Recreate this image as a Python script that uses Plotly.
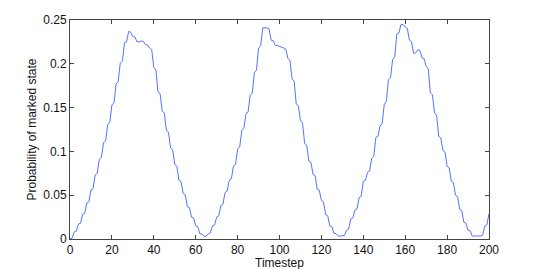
import plotly.graph_objects as go

timesteps = list(range(0, 201))

probability = [
    0.000, 0.001, 0.008, 0.009, 0.017, 0.018, 0.028, 0.029, 0.041, 0.0425,
    0.056, 0.0575, 0.073, 0.075, 0.091, 0.093, 0.110, 0.112, 0.131, 0.133,
    0.153, 0.1555, 0.177, 0.1795, 0.201, 0.203, 0.224, 0.225, 0.237, 0.236,
    0.231, 0.2305, 0.225, 0.225, 0.226, 0.2256, 0.222, 0.2216, 0.218, 0.216,
    0.196, 0.193, 0.168, 0.166, 0.146, 0.144, 0.124, 0.122, 0.104, 0.102,
    0.085, 0.083, 0.067, 0.0655, 0.052, 0.0505, 0.037, 0.036, 0.025, 0.024,
    0.015, 0.014, 0.006, 0.0057, 0.003, 0.0033, 0.006, 0.007, 0.015, 0.016,
    0.025, 0.0263, 0.038, 0.0395, 0.053, 0.0545, 0.067, 0.0686, 0.083, 0.085,
    0.103, 0.105, 0.124, 0.126, 0.143, 0.145, 0.164, 0.1666, 0.190, 0.1928,
    0.218, 0.2203, 0.241, 0.241, 0.241, 0.240, 0.227, 0.2264, 0.221, 0.2209,
    0.220, 0.2198, 0.218, 0.2168, 0.206, 0.2037, 0.183, 0.180, 0.154, 0.152,
    0.135, 0.1324, 0.109, 0.107, 0.089, 0.0875, 0.074, 0.0723, 0.057, 0.0557,
    0.044, 0.0424, 0.028, 0.0267, 0.015, 0.0142, 0.0065, 0.0062, 0.0034, 0.0034,
    0.0034, 0.004, 0.010, 0.0113, 0.023, 0.024, 0.033, 0.0344, 0.047, 0.0489,
    0.066, 0.067, 0.076, 0.0776, 0.092, 0.0944, 0.116, 0.1173, 0.129, 0.1315,
    0.154, 0.1568, 0.182, 0.1843, 0.205, 0.2079, 0.234, 0.2351, 0.245, 0.2447,
    0.242, 0.2405, 0.227, 0.2255, 0.212, 0.2124, 0.216, 0.2151, 0.207, 0.206,
    0.197, 0.194, 0.167, 0.1647, 0.144, 0.1413, 0.117, 0.1154, 0.101, 0.0992,
    0.083, 0.0813, 0.066, 0.0644, 0.050, 0.0484, 0.034, 0.0325, 0.019, 0.0181,
    0.010, 0.0093, 0.0034, 0.0034, 0.0034, 0.0034, 0.0034, 0.0046, 0.015, 0.0164,
    0.029,
]

x_ticks = [0, 20, 40, 60, 80, 100, 120, 140, 160, 180, 200]
x_tick_labels = ["0", "20", "40", "60", "80", "100", "120", "140", "160", "180", "200"]
y_ticks = [0, 0.05, 0.1, 0.15, 0.2, 0.25]
y_tick_labels = ["0", "0.05", "0.1", "0.15", "0.2", "0.25"]
x_title = "Timestep"
y_title = "Probability of marked state"

FONT = "Liberation Sans, Arial, sans-serif"

fig = go.Figure()
fig.add_trace(go.Scatter(
    x=timesteps, y=probability, mode="lines",
    line=dict(color="#5573ff", width=1),
    showlegend=False,
))

axis_common = dict(
    showline=True, linecolor="#444444", linewidth=1,
    mirror="ticks", ticks="inside", ticklen=4, tickcolor="#444444",
    showgrid=False, zeroline=False, automargin=False,
    tickfont=dict(family=FONT, size=12, color="#111111"),
)

fig.update_xaxes(range=[0, 200], tickvals=x_ticks, ticktext=x_tick_labels, **axis_common)
fig.update_yaxes(
    range=[0, 0.25], tickvals=y_ticks, ticktext=y_tick_labels,
    title=dict(text=y_title, standoff=4,
               font=dict(family=FONT, size=12, color="#111111")),
    **axis_common,
)

fig.add_annotation(
    text=x_title, xref="paper", yref="paper", x=0.5, y=-0.108,
    xanchor="center", yanchor="middle", showarrow=False,
    font=dict(family=FONT, size=12, color="#111111"),
)

# page body adds an 8px offset, so the figure is sized 8px smaller
fig.update_layout(
    width=532, height=261,
    margin=dict(l=62, r=51, t=12, b=30),
    paper_bgcolor="white", plot_bgcolor="white",
)

fig.write_html("out.html")
